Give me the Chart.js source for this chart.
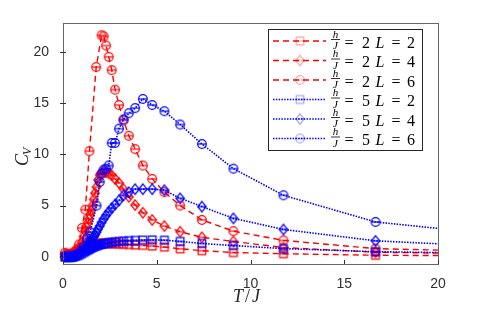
<!DOCTYPE html>
<html><head><meta charset="utf-8">
<script src="https://cdn.jsdelivr.net/npm/chart.js@4.4.0/dist/chart.umd.min.js"></script>
<style>html,body{margin:0;padding:0;background:#fff;}#wrap{width:485px;height:311px;position:relative;}</style>
</head><body><div id="wrap"><canvas id="c" width="485" height="311"></canvas></div>
<script>
// ---- data ----
const temps = [28.57,16.67,11.76,9.09,7.41,6.25,5.41,4.76,4.26,3.85,3.51,3.23,2.99,2.78,2.60,2.44,2.30,2.17,2.06,1.96,1.87,1.79,1.71,1.64,1.57,1.50,1.44,1.38,1.32,1.25,1.18,1.10,1.00,0.90,0.80,0.70,0.60,0.50,0.40,0.30,0.20,0.10];
const tempsH2L6 = [28.57,16.67,11.76,9.09,7.41,6.25,5.41,4.76,4.26,3.85,3.51,3.23,2.99,2.78,2.60,2.44,2.30,2.17,2.06,1.77,1.41,1.19,1.01,0.85,0.70,0.55,0.40,0.25,0.10];
const tempsH5L6 = [28.57,16.67,11.76,9.09,7.41,6.25,5.41,4.76,4.26,3.85,3.51,3.23,2.99,2.78,2.60,2.44,2.30,2.17,2.06,1.96,1.79,1.45,1.28,1.10,0.90,0.70,0.50,0.30];

const cvH2L2 = [0.05,0.15,0.30,0.42,0.60,0.78,0.95,1.05,1.12,1.16, 1.20,1.23,1.25,1.27,1.28,1.29,1.30,1.30,1.30,1.30, 1.29,1.28,1.27,1.25,1.23,1.21,1.18,1.15,1.12,1.08, 1.03,0.97,0.88,0.78,0.66,0.53,0.40,0.28,0.17,0.08, 0.03,0.01];
const cvH2L4 = [0.15,0.45,0.90,1.50,1.90,2.45,3.00,3.60,4.30,5.05, 5.85,6.60,7.20,7.60,7.95,8.15,8.25,8.30,8.20,8.00, 7.50,6.80,6.20,5.60,5.00,4.50,4.10,3.70,3.30,2.90, 2.50,2.00,1.40,0.85,0.55,0.35,0.20,0.12,0.08,0.10, 0.15,0.25];
const cvH2L6 = [0.27,0.80,1.60,2.50,3.60,5.00,6.30,7.60,8.90,10.50,11.80,13.30,14.80,16.30,18.20,19.50,20.60,21.50,21.60,18.50,10.30,4.60,2.80,1.20,0.60,0.30,0.20,0.30,0.40];
const cvH5L2 = [0.20,0.50,0.80,1.10,1.30,1.50,1.62,1.65,1.63,1.60, 1.57,1.53,1.50,1.46,1.42,1.38,1.33,1.28,1.23,1.18, 1.13,1.08,1.03,0.98,0.92,0.86,0.80,0.74,0.68,0.60, 0.52,0.43,0.32,0.22,0.13,0.07,0.03,0.01,0.00,0.00, 0.00,0.00];
const cvH5L4 = [0.53,1.56,2.67,3.75,4.90,5.70,6.50,6.60,6.60,6.60, 6.30,6.00,5.50,5.10,4.75,4.40,4.05,3.70,3.35,3.00, 2.70,2.40,2.15,1.95,1.78,1.62,1.47,1.32,1.17,1.02, 0.86,0.70,0.50,0.35,0.20,0.10,0.05,0.02,0.01,0.00, 0.00,0.00];
const cvH5L6 = [1.15,3.40,6.00,8.60,11.00,12.90,14.20,14.80,15.40,14.50,14.00,13.40,12.50,11.10,11.10,8.90,8.60,8.50,8.10,7.30,5.00,2.40,1.80,1.00,0.50,0.20,0.05,0.00];

const fieldValues = [2,2,2,5,5,5];
const sizeValues = [2,4,6,2,4,6];
const xTicks = [0,5,10,15,20];
const yTicks = [0,5,10,15,20];

// ---- markers ----
function makeMarker(shape, color, alpha){
  const s = 14, c = document.createElement('canvas');
  c.width = s; c.height = s;
  const g = c.getContext('2d');
  g.globalAlpha = alpha;
  g.strokeStyle = color; g.lineWidth = 1.2;
  const m = s/2;
  g.beginPath();
  if (shape === 'circle') g.arc(m, m, 4.3, 0, Math.PI*2);
  else if (shape === 'diamond') { g.moveTo(m, m-5.2); g.lineTo(m+4.2, m); g.lineTo(m, m+5.2); g.lineTo(m-4.2, m); g.closePath(); }
  else { g.rect(m-3.8, m-3.8, 7.6, 7.6); }
  g.stroke();
  g.beginPath(); g.moveTo(m-4.5, m); g.lineTo(m+4.5, m); g.stroke();
  return c;
}
const RED = '#ff0000', BLUE = '#0000ff';
const shapes = ['rect','diamond','circle','rect','diamond','circle'];
const colors = [RED,RED,RED,BLUE,BLUE,BLUE];
const dashes = [[6,4],[6,4],[6,4],[1.5,1.3],[1.5,1.3],[1.5,1.3]];
const xs = [temps, temps, tempsH2L6, temps, temps, tempsH5L6];
const ys = [cvH2L2, cvH2L4, cvH2L6, cvH5L2, cvH5L4, cvH5L6];

const series = [];
for (let i = 0; i < 6; i++) {
  series.push({
    label: 'h/J = ' + fieldValues[i] + ' L = ' + sizeValues[i],
    data: xs[i].map((t, k) => ({x: t, y: ys[i][k]})),
    borderColor: colors[i],
    borderWidth: i < 3 ? 1.4 : 1.6,
    borderDash: dashes[i],
    pointStyle: makeMarker(shapes[i], colors[i], 1),
    pointRadius: 5,
    fill: false,
    tension: 0,
    clip: {left: 6, top: 0, right: 0, bottom: 6},
    _legendMarker: makeMarker(shapes[i], colors[i], 0.35)
  });
}
// MATLAB draws later series on top; Chart.js draws index 0 on top -> reverse
const datasets = series.slice().reverse();

const SERIF = '"Liberation Serif", "DejaVu Serif", serif';
const decor = {
  id: 'decor',
  afterDraw(chart) {
    const ctx = chart.ctx, a = chart.chartArea;
    const xs_ = chart.scales.x, ys_ = chart.scales.y;
    ctx.save();
    // box
    ctx.strokeStyle = '#666'; ctx.lineWidth = 1; ctx.setLineDash([]);
    ctx.strokeRect(Math.round(a.left)+0.5, Math.round(a.top)+0.5, Math.round(a.right-a.left), Math.round(a.bottom-a.top));
    // ticks
    ctx.strokeStyle = '#333';
    xTicks.forEach(v => { const px = Math.round(xs_.getPixelForValue(v))+0.5; ctx.beginPath(); ctx.moveTo(px, a.bottom); ctx.lineTo(px, a.bottom-4); ctx.stroke(); });
    yTicks.forEach(v => { const py = Math.round(ys_.getPixelForValue(v))+0.5; ctx.beginPath(); ctx.moveTo(a.left-3, py); ctx.lineTo(a.left+3, py); ctx.stroke(); });
    // axis labels
    ctx.fillStyle = '#262626';
    ctx.textAlign = 'left'; ctx.textBaseline = 'alphabetic';
    ctx.font = 'italic 18px ' + SERIF;
    ctx.fillText('T', 233, 302);
    ctx.font = '18px ' + SERIF;
    ctx.fillText('/', 245, 302);
    ctx.font = 'italic 18px ' + SERIF;
    ctx.fillText('J', 252, 302);
    ctx.save();
    ctx.translate(28, 166); ctx.rotate(-Math.PI/2);
    ctx.font = 'italic 18px ' + SERIF;
    const cw = ctx.measureText('C').width;
    ctx.fillText('C', 0, 0);
    ctx.font = 'italic 12px ' + SERIF;
    ctx.fillText('V', cw - 1, 3);
    ctx.restore();

    // legend
    const bx = 268.5, by = 29.5, bw = 154, bh = 121;
    ctx.fillStyle = '#fff'; ctx.fillRect(bx, by, bw, bh);
    ctx.strokeStyle = '#262626'; ctx.lineWidth = 1; ctx.strokeRect(bx, by, bw, bh);
    const rows = [41, 60.5, 80, 99.5, 119, 138.5];
    series.forEach((d, i) => {
      const ry = rows[i];
      ctx.strokeStyle = d.borderColor; ctx.lineWidth = d.borderWidth; ctx.setLineDash(d.borderDash);
      ctx.beginPath(); ctx.moveTo(273, ry); ctx.lineTo(326, ry); ctx.stroke();
      ctx.setLineDash([]);
      const mk = d._legendMarker; ctx.drawImage(mk, 300 - mk.width/2, ry - mk.height/2);
      ctx.fillStyle = '#000';
      ctx.textAlign = 'center';
      ctx.font = 'italic 11px ' + SERIF;
      ctx.fillText('h', 335.5, ry - 3.5);
      ctx.fillText('J', 335.5, ry + 8);
      ctx.lineWidth = 0.8; ctx.strokeStyle = '#000';
      ctx.beginPath(); ctx.moveTo(331, ry - 1.5); ctx.lineTo(340, ry - 1.5); ctx.stroke();
      const base = ry + 6.7;
      ctx.font = '16px ' + SERIF;
      ctx.fillText('=', 349, base);
      ctx.fillText(String(fieldValues[i]), 366, base);
      ctx.font = 'italic 16px ' + SERIF;
      ctx.fillText('L', 380, base);
      ctx.font = '16px ' + SERIF;
      ctx.fillText('=', 396, base);
      ctx.fillText(String(sizeValues[i]), 411, base);
    });
    ctx.restore();
  }
};

new Chart(document.getElementById('c'), {
  type: 'line',
  data: { datasets },
  options: {
    responsive: false, animation: false, devicePixelRatio: 1,
    layout: { padding: { left: 0, top: 23, right: 47, bottom: 0 } },
    plugins: { legend: { display: false }, tooltip: { enabled: false } },
    scales: {
      x: {
        type: 'linear', min: 0, max: 20,
        afterFit(s) { s.height = 47; },
        afterBuildTicks(s) { s.ticks = xTicks.map(v => ({value: v})); },
        grid: { display: false }, border: { display: false },
        ticks: { color: '#303030', font: { family: '"Liberation Sans", Arial, sans-serif', size: 14 }, padding: 4, maxRotation: 0 }
      },
      y: {
        type: 'linear', min: -0.7, max: 22.8,
        afterFit(s) { s.width = 63; },
        afterBuildTicks(s) { s.ticks = yTicks.map(v => ({value: v})); },
        grid: { display: false }, border: { display: false },
        ticks: { color: '#303030', font: { family: '"Liberation Sans", Arial, sans-serif', size: 14 }, padding: 6 }
      }
    }
  },
  plugins: [decor]
});
</script>
</body></html>
